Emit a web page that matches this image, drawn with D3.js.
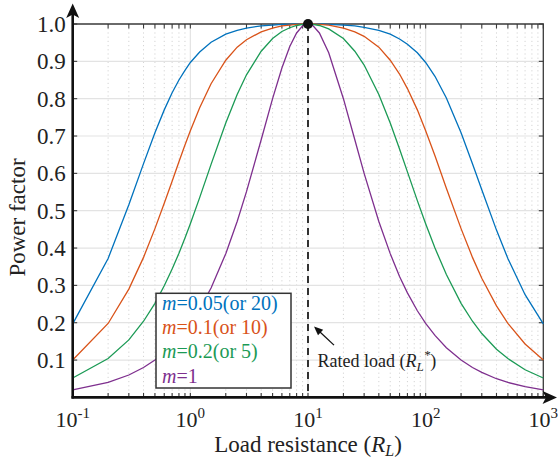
<!DOCTYPE html>
<html>
<head>
<meta charset="utf-8">
<script src="https://cdn.jsdelivr.net/npm/d3@7"></script>
<style>
  body { margin: 0; background: #fff; }
  svg { display: block; }
</style>
</head>
<body>
<svg id="chart" width="558" height="461" font-family="'Liberation Serif', 'Times New Roman', Times, serif"></svg>
<script>
// Load resistance samples (ohm) and power factor for each m
const loadR = [0.1, 0.2, 0.3, 0.4, 0.5, 0.6, 0.7, 0.8, 0.9, 1, 1.2, 1.5, 2, 2.5, 3, 4, 5, 6, 7, 8, 9,
  10, 11, 12.5, 15, 20, 25, 30, 40, 50, 60, 70, 85, 100, 120, 150, 200, 250, 300, 400, 500, 700, 1000];

const pfM005 = [0.197, 0.372, 0.516, 0.626, 0.709, 0.770, 0.816, 0.850, 0.876, 0.897, 0.925, 0.951, 0.973, 0.983, 0.989, 0.995, 0.997, 0.999, 0.999, 1.000, 1.000,
  1.000, 1.000, 1.000, 0.999, 0.997, 0.995, 0.991, 0.983, 0.973, 0.960, 0.946, 0.923, 0.897, 0.860, 0.802, 0.709, 0.626, 0.556, 0.448, 0.372, 0.275, 0.197];
const pfM01 = [0.100, 0.198, 0.290, 0.375, 0.452, 0.520, 0.579, 0.631, 0.676, 0.714, 0.776, 0.840, 0.903, 0.938, 0.958, 0.979, 0.989, 0.995, 0.997, 0.999, 1.000,
  1.000, 1.000, 0.999, 0.997, 0.989, 0.979, 0.967, 0.938, 0.903, 0.866, 0.827, 0.770, 0.714, 0.647, 0.560, 0.452, 0.375, 0.319, 0.245, 0.198, 0.143, 0.100];
const pfM02 = [0.052, 0.104, 0.154, 0.204, 0.252, 0.299, 0.344, 0.386, 0.427, 0.465, 0.535, 0.624, 0.735, 0.811, 0.864, 0.927, 0.961, 0.980, 0.990, 0.996, 0.999,
  1.000, 0.999, 0.996, 0.987, 0.961, 0.927, 0.890, 0.811, 0.735, 0.665, 0.604, 0.527, 0.465, 0.400, 0.329, 0.252, 0.204, 0.171, 0.129, 0.104, 0.074, 0.052];
const pfM1 = [0.020, 0.040, 0.060, 0.080, 0.100, 0.120, 0.139, 0.159, 0.179, 0.198, 0.237, 0.293, 0.385, 0.471, 0.551, 0.690, 0.800, 0.882, 0.940, 0.976, 0.995,
  1.000, 0.996, 0.976, 0.923, 0.800, 0.690, 0.600, 0.471, 0.385, 0.324, 0.280, 0.232, 0.198, 0.166, 0.133, 0.100, 0.080, 0.067, 0.050, 0.040, 0.029, 0.020];

const seriesLabels = ['0.05(or 20)', '0.1(or 10)', '0.2(or 5)', '1'];
const seriesColors = ['#0072BD', '#D95319', '#1B9A55', '#7E2F8E'];
const yTicks = [0.1, 0.2, 0.3, 0.4, 0.5, 0.6, 0.7, 0.8, 0.9, 1.0];
const xTicks = [0.1, 1, 10, 100, 1000];
const xTickExp = ['-1', '0', '1', '2', '3'];
const ratedLoad = 10;

const series = [pfM005, pfM01, pfM02, pfM1].map((vals, i) => ({
  label: seriesLabels[i],
  color: seriesColors[i],
  points: loadR.map((r, j) => ({ r, pf: vals[j] }))
}));

const svg = d3.select('#chart');
const plot = { left: 72.7, right: 543.3, top: 24, bottom: 397.4 };

const x = d3.scaleLog().domain([0.1, 1000]).range([plot.left, plot.right]);
const y = d3.scaleLinear().domain([0, 1]).range([plot.bottom, plot.top]);

// minor positions 2..9 in each decade
const minorX = [];
for (let k = -1; k < 3; k++) {
  for (let j = 2; j <= 9; j++) minorX.push(j * Math.pow(10, k));
}

// grid
const grid = svg.append('g');
grid.selectAll('.minor')
  .data(minorX)
  .enter()
  .append('line')
  .attr('x1', d => x(d)).attr('x2', d => x(d))
  .attr('y1', plot.top).attr('y2', plot.bottom)
  .attr('stroke', '#d4d4d4')
  .attr('stroke-width', 1)
  .attr('stroke-dasharray', '1.2 3');
grid.selectAll('.majx')
  .data(xTicks.slice(1, -1))
  .enter()
  .append('line')
  .attr('x1', d => x(d)).attr('x2', d => x(d))
  .attr('y1', plot.top).attr('y2', plot.bottom)
  .attr('stroke', '#e3e3e3')
  .attr('stroke-width', 1.2);
grid.selectAll('.majy')
  .data(yTicks.slice(0, -1))
  .enter()
  .append('line')
  .attr('x1', plot.left).attr('x2', plot.right)
  .attr('y1', d => y(d)).attr('y2', d => y(d))
  .attr('stroke', '#e3e3e3')
  .attr('stroke-width', 1.2);

// frame top and right
svg.append('path')
  .attr('d', `M${plot.left},${plot.top}H${plot.right}V${plot.bottom}`)
  .attr('fill', 'none')
  .attr('stroke', '#3a3a3a')
  .attr('stroke-width', 1.3);

// tick marks on all four sides
const allX = xTicks.concat(minorX);
const tickG = svg.append('g').attr('stroke', '#3a3a3a').attr('stroke-width', 1.1);
allX.forEach(v => {
  tickG.append('line').attr('x1', x(v)).attr('x2', x(v)).attr('y1', plot.top).attr('y2', plot.top + 4.5);
  tickG.append('line').attr('x1', x(v)).attr('x2', x(v)).attr('y1', plot.bottom).attr('y2', plot.bottom - 4.5);
});
yTicks.forEach(v => {
  tickG.append('line').attr('x1', plot.left).attr('x2', plot.left + 4.5).attr('y1', y(v)).attr('y2', y(v));
  tickG.append('line').attr('x1', plot.right).attr('x2', plot.right - 4.5).attr('y1', y(v)).attr('y2', y(v));
});

// curves
const line = d3.line()
  .x(d => x(d.r))
  .y(d => y(d.pf));

svg.append('g')
  .selectAll('path')
  .data(series)
  .enter()
  .append('path')
  .attr('d', d => line(d.points))
  .attr('fill', 'none')
  .attr('stroke', d => d.color)
  .attr('stroke-width', 1.3);

// rated load dashed line and point
svg.append('line')
  .attr('x1', x(ratedLoad)).attr('x2', x(ratedLoad))
  .attr('y1', y(1)).attr('y2', plot.bottom)
  .attr('stroke', '#111')
  .attr('stroke-width', 1.7)
  .attr('stroke-dasharray', '7 5');
svg.append('circle')
  .attr('cx', x(ratedLoad))
  .attr('cy', y(1))
  .attr('r', 5)
  .attr('fill', '#111');

// left and bottom axes, thick with arrows
svg.append('line')
  .attr('x1', plot.left).attr('x2', plot.left)
  .attr('y1', plot.bottom + 1.2).attr('y2', 14)
  .attr('stroke', '#111').attr('stroke-width', 2.6);
svg.append('path')
  .attr('d', `M${plot.left},3.5L${plot.left - 6.5},18L${plot.left},14.5L${plot.left + 6.5},18Z`)
  .attr('fill', '#111');
svg.append('line')
  .attr('x1', plot.left - 1.2).attr('x2', 548)
  .attr('y1', plot.bottom).attr('y2', plot.bottom)
  .attr('stroke', '#111').attr('stroke-width', 2.6);
svg.append('path')
  .attr('d', `M557,${plot.bottom}L542.5,${plot.bottom - 6.5}L546,${plot.bottom}L542.5,${plot.bottom + 6.5}Z`)
  .attr('fill', '#111');

// y tick labels
svg.append('g')
  .selectAll('text')
  .data(yTicks)
  .enter()
  .append('text')
  .attr('x', plot.left - 7)
  .attr('y', d => y(d))
  .attr('dy', '0.34em')
  .attr('text-anchor', 'end')
  .attr('font-size', 23)
  .attr('fill', '#222')
  .text(d3.format('.1f'));

// x tick labels with exponents
const xl = svg.append('g')
  .selectAll('text')
  .data(xTicks)
  .enter()
  .append('text')
  .attr('x', d => x(d))
  .attr('y', 427)
  .attr('text-anchor', 'middle')
  .attr('font-size', 22)
  .attr('fill', '#222');
xl.append('tspan').text('10');
xl.append('tspan')
  .attr('dy', -9)
  .attr('font-size', 15)
  .text((d, i) => xTickExp[i]);

// axis titles
const xt = svg.append('text')
  .attr('x', x(ratedLoad))
  .attr('y', 452)
  .attr('text-anchor', 'middle')
  .attr('font-size', 23)
  .attr('fill', '#222');
xt.append('tspan').text('Load resistance (');
xt.append('tspan').attr('font-style', 'italic').text('R');
xt.append('tspan').attr('font-style', 'italic').attr('font-size', 16).attr('dy', 4).text('L');
xt.append('tspan').attr('dy', -4).text(')');

svg.append('text')
  .attr('transform', 'translate(25,217.5) rotate(-90)')
  .attr('text-anchor', 'middle')
  .attr('font-size', 23)
  .attr('fill', '#222')
  .text('Power factor');

// rated load annotation
const tipX = x(ratedLoad) + 6, tipY = y(0.19);
const tailX = x(ratedLoad) + 26, tailY = y(0.14);
const ang = Math.atan2(tipY - tailY, tipX - tailX);
svg.append('line')
  .attr('x1', tailX).attr('y1', tailY)
  .attr('x2', tipX - 6 * Math.cos(ang)).attr('y2', tipY - 6 * Math.sin(ang))
  .attr('stroke', '#111').attr('stroke-width', 1.3);
svg.append('path')
  .attr('d', d3.line()([
    [tipX, tipY],
    [tipX - 9 * Math.cos(ang) + 3.8 * Math.sin(ang), tipY - 9 * Math.sin(ang) - 3.8 * Math.cos(ang)],
    [tipX - 9 * Math.cos(ang) - 3.8 * Math.sin(ang), tipY - 9 * Math.sin(ang) + 3.8 * Math.cos(ang)]
  ]) + 'Z')
  .attr('fill', '#111');

const rl = svg.append('text')
  .attr('x', x(ratedLoad) + 9.5)
  .attr('y', 366.5)
  .attr('font-size', 18)
  .attr('fill', '#222');
rl.append('tspan').text('Rated load (');
rl.append('tspan').attr('font-style', 'italic').text('R');
rl.append('tspan').attr('font-style', 'italic').attr('font-size', 13).attr('dy', 4).text('L');
rl.append('tspan').attr('font-style', 'italic').attr('font-size', 13).attr('dy', -12).text('*');
rl.append('tspan').attr('dy', 8).text(')');

// legend
const legend = svg.append('g');
legend.append('rect')
  .attr('x', 156).attr('y', 293.3)
  .attr('width', 135).attr('height', 94.7)
  .attr('fill', '#fff')
  .attr('stroke', '#333')
  .attr('stroke-width', 1.5);
series.forEach((s, i) => {
  const t = legend.append('text')
    .attr('x', 162)
    .attr('y', 310 + i * 24.2)
    .attr('font-size', 20)
    .attr('fill', s.color);
  t.append('tspan').attr('font-style', 'italic').text('m');
  t.append('tspan').text('=' + s.label);
});
</script>
</body>
</html>
